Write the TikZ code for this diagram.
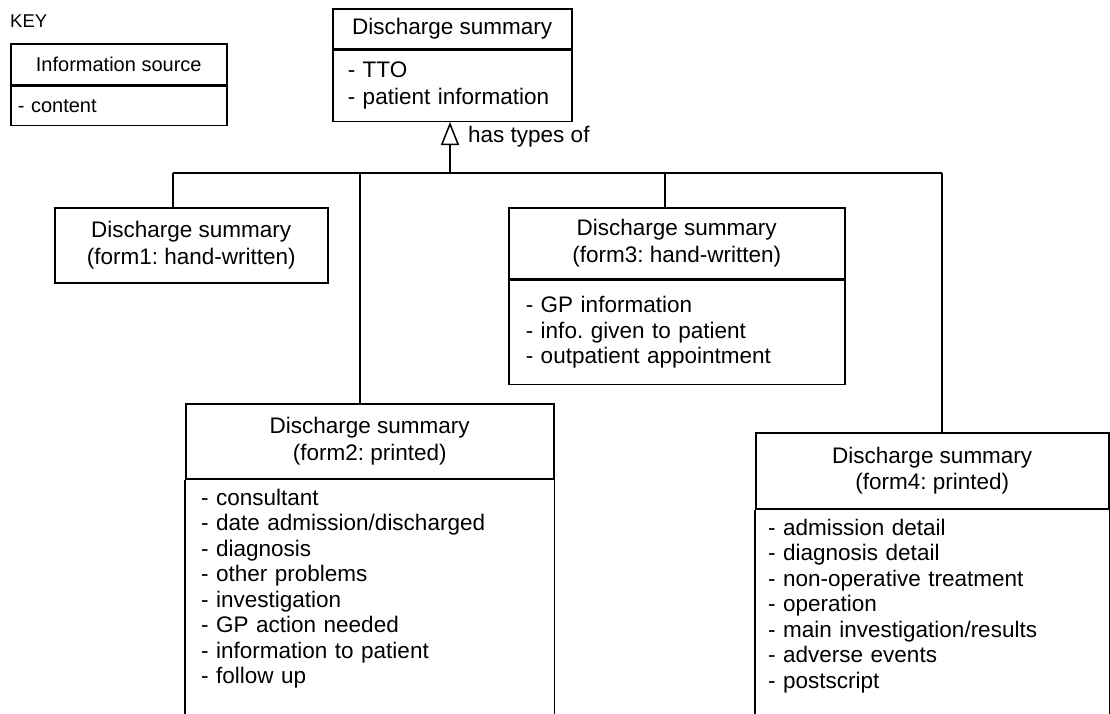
\documentclass[tikz,border=0pt]{standalone}
\usepackage{fontspec}
\setmainfont{Liberation Sans}
\usetikzlibrary{arrows.meta}
\frenchspacing
\begin{document}
\begin{tikzpicture}[x=1pt,y=-1pt,
  every node/.style={font=\fontsize{22.5}{25.5}\selectfont},
  ln/.style={line width=1.5pt},
  titlebox/.style={draw, line width=1.5pt, inner sep=0pt, align=center, anchor=north west, font=\fontsize{22.5}{26.5}\selectfont},
  bodybox/.style={draw, line width=1.5pt, inner ysep=0pt, align=left, anchor=north west},
  bodytext/.style={inner ysep=9pt, align=left, anchor=north west},
  keyfont/.style={font=\fontsize{20}{23}\selectfont}
]
\clip (0,0) rectangle (1110,713);
\fill[white] (0,0) rectangle (1110,713);

% key
\node[anchor=west, inner sep=0pt, font=\fontsize{18.5}{20}\selectfont] (key) at (10,21) {KEY};
\node[titlebox, keyfont, minimum width=216pt, minimum height=41pt] (keyT) at (10,43) {Information source};
\node[bodybox, keyfont, inner xsep=7pt, text width=202pt, minimum height=39pt] (keyB) at (keyT.south west) {- content};

% top class
\node[titlebox, minimum width=239pt, minimum height=40pt] (topT) at (332,8) {Discharge summary};
\node[bodybox, font=\fontsize{22.5}{27}\selectfont, inner xsep=15pt, text width=209pt, minimum height=71pt] (topB) at (topT.south west) {- TTO\\- patient information};

% form1
\node[titlebox, minimum width=273pt, minimum height=75pt] (f1) at (54,207) {Discharge summary\\(form1: hand-written)};

% form3
\node[titlebox, minimum width=336pt, minimum height=71pt] (f3T) at (508,207) {Discharge summary\\(form3: hand-written)};
\node[bodybox, inner xsep=17pt, text width=302pt, minimum height=104pt] (f3B) at (f3T.south west) {- GP information\\- info. given to patient\\- outpatient appointment};

% form2
\node[titlebox, minimum width=368pt, minimum height=75pt] (f2T) at (185,403) {Discharge summary\\(form2: printed)};
\node[bodytext, inner xsep=16pt, text width=330pt] (f2B) at (f2T.south west) {- consultant\\- date admission/discharged\\- diagnosis\\- other problems\\- investigation\\- GP action needed\\- information to patient\\- follow up};
\draw[ln] (f2T.south west) -- ++(0,260);
\draw[ln] (f2T.south east) -- ++(0,260);

% form4
\node[titlebox, minimum width=353pt, minimum height=76pt] (f4T) at (755,432) {Discharge summary\\(form4: printed)};
\node[bodytext, inner xsep=13pt, text width=320pt] (f4B) at (f4T.south west) {- admission detail\\- diagnosis detail\\- non-operative treatment\\- operation\\- main investigation/results\\- adverse events\\- postscript};
\draw[ln] (f4T.south west) -- ++(0,260);
\draw[ln] (f4T.south east) -- ++(0,260);

% connectors
\coordinate (hub) at (450,173);
\coordinate (j1) at (173,173);
\coordinate (j2) at (360,173);
\coordinate (j3) at (665,173);
\coordinate (j4) at (942,173);
\draw[ln] (j1) -- (j4);
\draw[ln, -{Triangle[open, length=23pt, width=18pt, line width=1.5pt]}] (hub) -- (hub |- topB.south);
\node[anchor=west, inner sep=0pt] (lbl) at (468,137) {has types of};
\draw[ln] (j1) -- (j1 |- f1.north);
\draw[ln] (j2) -- (j2 |- f2T.north);
\draw[ln] (j3) -- (j3 |- f3T.north);
\draw[ln] (j4) -- (j4 |- f4T.north);
\end{tikzpicture}
\end{document}
